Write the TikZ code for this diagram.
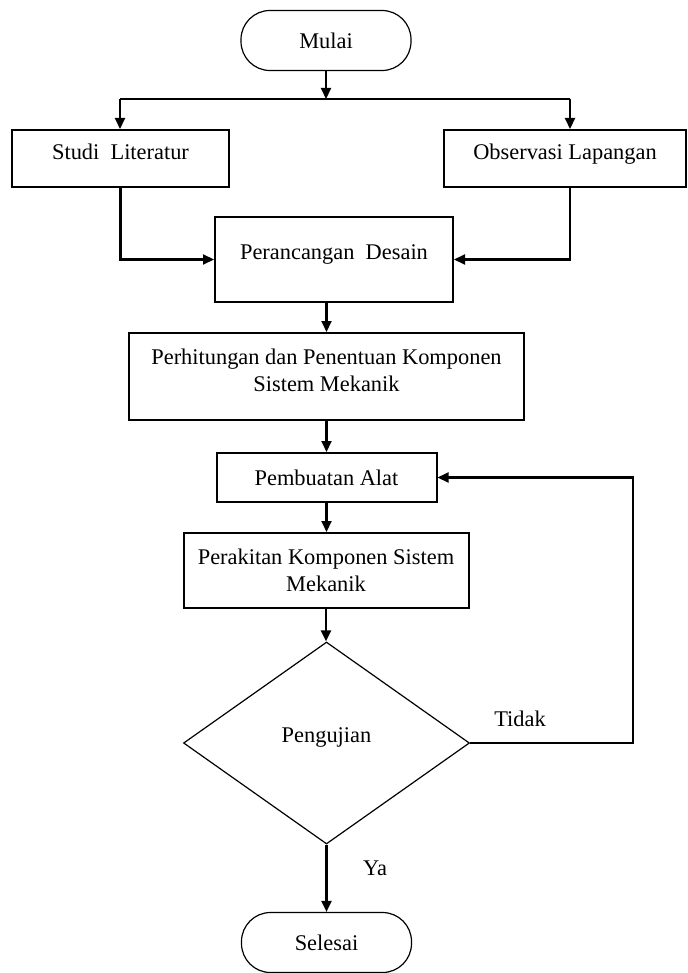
\documentclass[tikz,border=0pt]{standalone}
\usepackage{fontspec}
\setmainfont{Liberation Serif}
\usepackage{tikz}
\usetikzlibrary{calc,shapes.geometric,arrows.meta}

\begin{document}
\begin{tikzpicture}[x=0.5pt,y=-0.5pt,
  font=\fontsize{11.2}{13.5}\selectfont,
  proses/.style={draw,line width=1pt,inner sep=0pt,align=center},
  terminal/.style={draw,line width=0.6pt,rounded corners=14.5pt,inner sep=0pt,
    minimum width=85pt,minimum height=30pt},
  keputusan/.style={draw,diamond,line width=0.6pt,inner sep=0pt},
  panah/.style={line width=1.05pt,-{Triangle[length=5.5pt,width=5pt]}},
  garis/.style={line width=1.05pt}]

% page frame
\useasboundingbox (0,0) rectangle (688,973);

% terminals
\node[terminal] (mulai) at (326,40.5) {Mulai};
\node[terminal] (selesai) at (326.5,942.5) {Selesai};

% process boxes, top to bottom
\node[proses,minimum width=108.5pt,minimum height=28.5pt,text depth=6.5pt]
  (studi) at (120.5,158.5) {Studi\ \ Literatur};
\node[proses,minimum width=121pt,minimum height=28.5pt,text depth=6.5pt]
  (obs) at (565,158.5) {Observasi Lapangan};
\node[proses,minimum width=119pt,minimum height=42.5pt,text depth=7.5pt]
  (rancang) at (334,259.5) {Perancangan\ \ Desain};
\node[proses,minimum width=197.5pt,minimum height=43.5pt,text depth=6pt]
  (hitung) at (326.5,376.5) {Perhitungan dan Penentuan Komponen\\Sistem Mekanik};
\node[proses,minimum width=110pt,minimum height=24.5pt]
  (buat) at (326.5,477.5) {Pembuatan Alat};
\node[proses,minimum width=142.5pt,minimum height=37.5pt]
  (rakit) at (326,570.5) {Perakitan Komponen Sistem\\Mekanik};

% decision
\node[keputusan,minimum width=143pt,minimum height=101pt,text depth=8pt]
  (uji) at (326.5,743) {Pengujian};

% branch labels
\node (tidak) at (520,719) {Tidak};
\node (ya) at (375,868) {Ya};

% split below mulai
\coordinate (cabang) at (326,99);
\coordinate (kiri) at (120,99);
\coordinate (kanan) at (570,99);
\draw[panah] (mulai.south) -- (cabang);
\draw[garis] (kiri) -- (kanan);
\draw[panah] (kiri) -- (kiri |- studi.north);
\draw[panah] (kanan) -- (kanan |- obs.north);

% join into perancangan
\draw[panah] (studi.south) |- (rancang.west);
\draw[panah] (kanan |- obs.south) |- (rancang.east);

% main flow
\draw[panah] (hitung.north |- rancang.south) -- (hitung.north);
\draw[panah] (hitung.south) -- (hitung.south |- buat.north);
\draw[panah] (buat.south) -- (buat.south |- rakit.north);
\draw[panah] (rakit.south) -- (rakit.south |- uji.north);
\draw[panah] (uji.south) -- (uji.south |- selesai.north);

% loop back when test fails
\coordinate (balik) at (633,743);
\draw[panah] (uji.east) -- (balik) |- (buat.east);

\end{tikzpicture}
\end{document}
